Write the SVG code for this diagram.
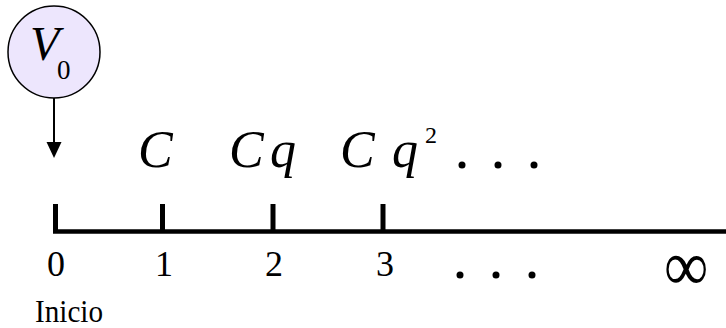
<svg xmlns="http://www.w3.org/2000/svg" width="726" height="328" viewBox="0 0 726 328">
<style>
text{font-family:"Liberation Serif","Times New Roman",serif;fill:#000}
.it{font-style:italic}
.ax{stroke:#000;stroke-width:4.5;fill:none}
.tk{stroke:#000;stroke-width:5;fill:none}
</style>
<rect width="726" height="328" fill="#fff"/>
<g id="v0">
<circle cx="54" cy="52" r="46" fill="#EDE6FD" stroke="#000" stroke-width="1.5"/>
<text class="it" x="30" y="60" font-size="48">V</text>
<text x="57" y="79" font-size="27">0</text>
</g>
<g id="connectors">
<line x1="54" y1="98" x2="54" y2="143" stroke="#000" stroke-width="2"/>
<path d="M46.5,142 L61.5,142 L54,158 Z" fill="#000"/>
</g>
<g id="axis">
<line class="ax" x1="53" y1="231.5" x2="726" y2="231.5"/>
<line class="tk" x1="55.5" y1="204" x2="55.5" y2="232"/>
<line class="tk" x1="162.5" y1="204" x2="162.5" y2="232"/>
<line class="tk" x1="273" y1="204" x2="273" y2="232"/>
<line class="tk" x1="383" y1="204" x2="383" y2="232"/>
</g>
<g id="labels-top">
<text class="it" x="138" y="167" font-size="52">C</text>
<text class="it" x="229" y="167" font-size="52">C</text>
<text class="it" x="270" y="167" font-size="52">q</text>
<text class="it" x="340" y="167" font-size="52">C</text>
<text class="it" x="392" y="167" font-size="52">q</text>
<text x="425" y="143" font-size="24">2</text>
<circle cx="462" cy="165" r="3.5"/>
<circle cx="498" cy="165" r="3.5"/>
<circle cx="534" cy="165" r="3.5"/>
</g>
<g id="labels-bottom">
<text x="47" y="276" font-size="36">0</text>
<text x="155" y="276" font-size="36">1</text>
<text x="265" y="276" font-size="36">2</text>
<text x="376" y="276" font-size="36">3</text>
<circle cx="460" cy="275" r="3.5"/>
<circle cx="496" cy="275" r="3.5"/>
<circle cx="532" cy="275" r="3.5"/>
<text x="686" y="287" font-size="62" text-anchor="middle" transform="translate(686,268.5) scale(1,1.15) translate(-686,-268.5)">∞</text>
<text x="35" y="322" font-size="31" textLength="68" lengthAdjust="spacingAndGlyphs">Inicio</text>
</g>
</svg>
